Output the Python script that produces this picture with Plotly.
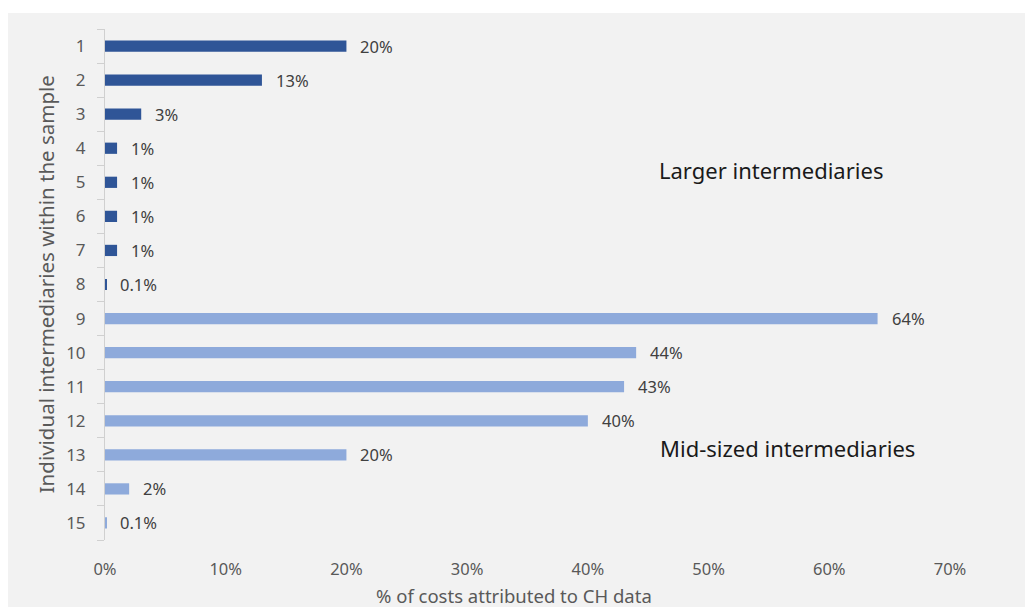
import plotly.graph_objects as go

# Share of each intermediary's costs attributed to CH data (%)
intermediaries = list(range(1, 16))
larger_ids = intermediaries[:8]
larger_vals = [20, 13, 3, 1, 1, 1, 1, 0.1]
larger_labels = ["20%", "13%", "3%", "1%", "1%", "1%", "1%", "0.1%"]
mid_ids = intermediaries[8:]
mid_vals = [64, 44, 43, 40, 20, 2, 0.1]
mid_labels = ["64%", "44%", "43%", "40%", "20%", "2%", "0.1%"]

x_ticks = [0, 10, 20, 30, 40, 50, 60, 70]
x_tick_text = [f"{t}%" for t in x_ticks]

DARK = "#2f5597"
LIGHT = "#8eaadb"
TEXT = "#595959"
FONT = "Noto Sans"

fig = go.Figure()
fig.add_trace(go.Bar(y=larger_ids, x=larger_vals, orientation="h",
                     marker=dict(color=DARK, line=dict(width=0)),
                     width=0.33, hoverinfo="x+y"))
fig.add_trace(go.Bar(y=mid_ids, x=mid_vals, orientation="h",
                     marker=dict(color=LIGHT, line=dict(width=0)),
                     width=0.33, hoverinfo="x+y"))

annotations = []
for ids, vals, labs in ((larger_ids, larger_vals, larger_labels),
                        (mid_ids, mid_vals, mid_labels)):
    for c, v, lab in zip(ids, vals, labs):
        annotations.append(dict(x=v, y=c, xref="x", yref="y", text=lab,
                                showarrow=False, xanchor="left", yanchor="middle",
                                xshift=12,
                                font=dict(family=FONT, size=16.5, color="#404040")))

annotations += [
    dict(x=0.788, y=0.724, xref="paper", yref="paper", text="Larger intermediaries",
         showarrow=False, xanchor="center", yanchor="middle",
         font=dict(family=FONT, size=22, color="#1a1a1a")),
    dict(x=0.808, y=0.180, xref="paper", yref="paper", text="Mid-sized intermediaries",
         showarrow=False, xanchor="center", yanchor="middle",
         font=dict(family=FONT, size=22, color="#1a1a1a")),
    dict(x=-0.070, y=0.5, xref="paper", yref="paper", textangle=-90,
         text="Individual intermediaries within the sample", showarrow=False,
         xanchor="center", yanchor="middle",
         font=dict(family=FONT, size=20.5, color=TEXT)),
    dict(x=0.484, y=-0.108, xref="paper", yref="paper",
         text="% of costs attributed to CH data", showarrow=False,
         xanchor="center", yanchor="middle",
         font=dict(family=FONT, size=18.5, color=TEXT)),
]

fig.update_layout(
    width=1025, height=607,
    margin=dict(l=105, r=75, t=29, b=67),
    paper_bgcolor="white",
    plot_bgcolor="rgba(0,0,0,0)",
    showlegend=False,
    barmode="overlay",
    annotations=annotations,
    shapes=[dict(type="rect", xref="paper", yref="paper",
                 x0=-0.1148, x1=1.09, y0=-0.14, y1=1.0313,
                 fillcolor="#f2f2f2", line=dict(width=0), layer="below")],
)
fig.update_xaxes(range=[0, 70], tickvals=x_ticks, ticktext=x_tick_text,
                 showgrid=False, zeroline=False, showline=False,
                 tickfont=dict(family=FONT, size=16.5, color=TEXT),
                 ticklabelstandoff=17)
fig.update_yaxes(range=[15.5, 0.5], tickmode="array", tickvals=intermediaries,
                 showgrid=False, zeroline=False,
                 showline=True, linecolor="#d0d0d0", linewidth=1,
                 ticks="",
                 minor=dict(tick0=0.5, dtick=1, ticks="outside", ticklen=7,
                            tickcolor="#d0d0d0", showgrid=False),
                 tickfont=dict(family=FONT, size=17, color=TEXT),
                 ticklabelstandoff=15)

fig.write_html("out.html")
